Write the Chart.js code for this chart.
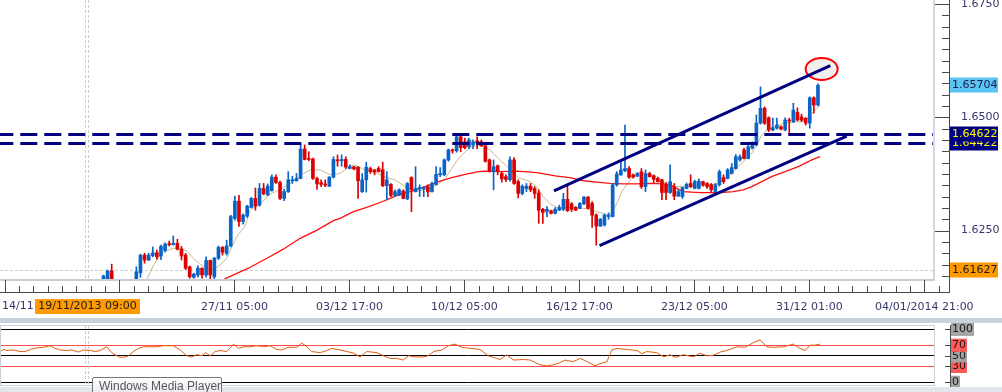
<!DOCTYPE html>
<html>
<head>
<meta charset="utf-8">
<script src="https://cdn.jsdelivr.net/npm/chart.js@4.4.1/dist/chart.umd.min.js"></script>
<style>
  html, body { margin: 0; padding: 0; background: #fff; overflow: hidden; }
  #wrap { position: relative; width: 1002px; height: 392px; }
  #mainChart { position: absolute; left: 0; top: 0; }
  #rsiChart { position: absolute; left: 0; top: 323px; }
  .band { position: absolute; left: 0; width: 1002px; }
  #wmp {
    position: absolute; left: 92px; top: 377px; width: 130px; height: 20px;
    border: 1px solid #767676; border-radius: 2px;
    background: linear-gradient(#ffffff, #e4e5ef);
    font: 12px "Liberation Sans", Arial, sans-serif; color: #575757;
    line-height: 17px; padding-left: 6px; box-sizing: border-box; white-space: nowrap;
  }
</style>
</head>
<body>
<div id="wrap">
  <canvas id="mainChart" width="1002" height="318"></canvas>
  <div class="band" style="top:318px;height:5px;background:#c8d1dc;"></div>
  <canvas id="rsiChart" width="1002" height="69"></canvas>
  <div class="band" style="top:387px;height:5px;background:#e2e6eb;"></div>
  <div id="wmp">Windows Media Player</div>
</div>
<script>
// 4H candles, index 0 = first visible candle (3..7 are below the visible range)
var candleOpen = [
  1.6142, 1.6139, 1.6161, null, null, null, null, null, 1.6139, 1.6157,
  1.6196, 1.6185, 1.6195, 1.6201, 1.6194, 1.6206, 1.6220, 1.6219, 1.6222, 1.6209,
  1.6196, 1.6170, 1.6147, 1.6152, 1.6167, 1.6152, 1.6184, 1.6148, 1.6189, 1.6213,
  1.6200, 1.6216, 1.6277, 1.6315, 1.6270, 1.6282, 1.6301, 1.6321, 1.6306, 1.6343,
  1.6329, 1.6338, 1.6368, 1.6356, 1.6321, 1.6336, 1.6360, 1.6360, 1.6365, 1.6430,
  1.6409, 1.6408, 1.6365, 1.6356, 1.6353, 1.6348, 1.6368, 1.6406, 1.6404, 1.6407,
  1.6387, 1.6391, 1.6390, 1.6336, 1.6362, 1.6387, 1.6384, 1.6387, 1.6384, 1.6349,
  1.6352, 1.6328, 1.6328, 1.6337, 1.6320, 1.6367, 1.6336, 1.6342, 1.6342, 1.6347,
  1.6336, 1.6352, 1.6373, 1.6373, 1.6406, 1.6428, 1.6426, 1.6457, 1.6446, 1.6435,
  1.6439, 1.6448, 1.6446, 1.6437, 1.6406, 1.6380, 1.6393, 1.6376, 1.6369, 1.6362,
  1.6406, 1.6358, 1.6332, 1.6343, 1.6348, 1.6343, 1.6333, 1.6297, 1.6292, 1.6294,
  1.6288, 1.6295, 1.6297, 1.6319, 1.6309, 1.6301, 1.6299, 1.6309, 1.6324, 1.6310,
  1.6284, 1.6260, 1.6262, 1.6281, 1.6281, 1.6351, 1.6373, 1.6382, 1.6387, 1.6373,
  1.6370, 1.6380, 1.6347, 1.6376, 1.6371, 1.6365, 1.6362, 1.6351, 1.6334, 1.6347,
  1.6326, 1.6325, 1.6343, 1.6354, 1.6343, 1.6343, 1.6358, 1.6354, 1.6351, 1.6336,
  1.6351, 1.6367, 1.6365, 1.6376, 1.6387, 1.6406, 1.6428, 1.6409, 1.6432, 1.6439,
  1.6487, 1.6520, 1.6499, 1.6472, 1.6476, 1.6479, 1.6472, 1.6494, 1.6490, 1.6511,
  1.6501, 1.6498, 1.6487, 1.6543, 1.6527
];
var candleClose = [
  1.6150, 1.6161, 1.6139, null, null, null, null, null, 1.6159, 1.6196,
  1.6185, 1.6196, 1.6201, 1.6192, 1.6215, 1.6220, 1.6219, 1.6222, 1.6209, 1.6194,
  1.6167, 1.6148, 1.6154, 1.6167, 1.6152, 1.6184, 1.6152, 1.6189, 1.6213, 1.6202,
  1.6216, 1.6281, 1.6315, 1.6270, 1.6284, 1.6304, 1.6321, 1.6304, 1.6343, 1.6331,
  1.6348, 1.6368, 1.6356, 1.6321, 1.6336, 1.6362, 1.6362, 1.6365, 1.6430, 1.6407,
  1.6407, 1.6365, 1.6353, 1.6352, 1.6350, 1.6368, 1.6407, 1.6404, 1.6407, 1.6390,
  1.6391, 1.6386, 1.6360, 1.6362, 1.6390, 1.6380, 1.6379, 1.6380, 1.6349, 1.6362,
  1.6328, 1.6336, 1.6340, 1.6321, 1.6354, 1.6340, 1.6343, 1.6345, 1.6345, 1.6336,
  1.6354, 1.6374, 1.6376, 1.6406, 1.6428, 1.6426, 1.6457, 1.6433, 1.6433, 1.6450,
  1.6446, 1.6443, 1.6437, 1.6403, 1.6380, 1.6391, 1.6380, 1.6364, 1.6363, 1.6406,
  1.6354, 1.6332, 1.6348, 1.6348, 1.6340, 1.6332, 1.6295, 1.6290, 1.6297, 1.6288,
  1.6297, 1.6301, 1.6319, 1.6294, 1.6297, 1.6295, 1.6310, 1.6324, 1.6299, 1.6284,
  1.6260, 1.6275, 1.6284, 1.6284, 1.6351, 1.6375, 1.6384, 1.6387, 1.6368, 1.6368,
  1.6376, 1.6347, 1.6376, 1.6369, 1.6363, 1.6358, 1.6334, 1.6334, 1.6358, 1.6326,
  1.6336, 1.6345, 1.6352, 1.6347, 1.6358, 1.6359, 1.6351, 1.6347, 1.6340, 1.6351,
  1.6380, 1.6358, 1.6384, 1.6389, 1.6413, 1.6413, 1.6409, 1.6435, 1.6443, 1.6487,
  1.6520, 1.6487, 1.6472, 1.6477, 1.6483, 1.6474, 1.6494, 1.6492, 1.6516, 1.6494,
  1.6494, 1.6487, 1.6543, 1.6527, 1.65704
];
var candleHigh = [
  1.6152, 1.6163, 1.6176, null, null, null, null, null, 1.6170, 1.6198,
  1.6200, 1.6200, 1.6214, 1.6207, 1.6218, 1.6223, 1.6227, 1.6238, 1.6231, 1.6215,
  1.6200, 1.6172, 1.6156, 1.6172, 1.6168, 1.6192, 1.6185, 1.6191, 1.6216, 1.6215,
  1.6229, 1.6284, 1.6326, 1.6328, 1.6287, 1.6306, 1.6323, 1.6344, 1.6354, 1.6354,
  1.6353, 1.6373, 1.6373, 1.6359, 1.6341, 1.6380, 1.6370, 1.6376, 1.6441, 1.6439,
  1.6424, 1.6410, 1.6368, 1.6362, 1.6362, 1.6369, 1.6413, 1.6417, 1.6417, 1.6413,
  1.6395, 1.6392, 1.6391, 1.6376, 1.6401, 1.6390, 1.6385, 1.6391, 1.6401, 1.6380,
  1.6354, 1.6340, 1.6342, 1.6340, 1.6356, 1.6369, 1.6391, 1.6351, 1.6347, 1.6351,
  1.6357, 1.6391, 1.6389, 1.6408, 1.6430, 1.6430, 1.6460, 1.6459, 1.6454, 1.6454,
  1.6450, 1.6457, 1.6450, 1.6439, 1.6408, 1.6406, 1.6395, 1.6380, 1.6373, 1.6413,
  1.6411, 1.6362, 1.6351, 1.6354, 1.6354, 1.6347, 1.6340, 1.6299, 1.6303, 1.6295,
  1.6301, 1.6306, 1.6332, 1.6348, 1.6312, 1.6303, 1.6312, 1.6325, 1.6325, 1.6314,
  1.6287, 1.6277, 1.6287, 1.6289, 1.6354, 1.6380, 1.6402, 1.6483, 1.6391, 1.6375,
  1.6378, 1.6387, 1.6384, 1.6379, 1.6373, 1.6368, 1.6363, 1.6356, 1.6395, 1.6354,
  1.6340, 1.6346, 1.6355, 1.6373, 1.6361, 1.6364, 1.6359, 1.6356, 1.6354, 1.6354,
  1.6384, 1.6373, 1.6387, 1.6398, 1.6418, 1.6417, 1.6432, 1.6439, 1.6446, 1.6505,
  1.6567, 1.6523, 1.6501, 1.6498, 1.6498, 1.6481, 1.6499, 1.6498, 1.6531, 1.6521,
  1.6507, 1.6499, 1.6545, 1.6545, 1.6574
];
var candleLow = [
  1.6139, 1.6134, 1.6134, null, null, null, null, null, 1.6134, 1.6147,
  1.6178, 1.6184, 1.6192, 1.6187, 1.6186, 1.6203, 1.6216, 1.6218, 1.6207, 1.6185,
  1.6164, 1.6145, 1.6145, 1.6148, 1.6145, 1.6147, 1.6143, 1.6143, 1.6186, 1.6196,
  1.6196, 1.6214, 1.6273, 1.6259, 1.6264, 1.6279, 1.6300, 1.6295, 1.6304, 1.6329,
  1.6327, 1.6337, 1.6354, 1.6318, 1.6316, 1.6334, 1.6354, 1.6359, 1.6364, 1.6406,
  1.6404, 1.6363, 1.6341, 1.6347, 1.6347, 1.6347, 1.6366, 1.6392, 1.6392, 1.6387,
  1.6386, 1.6384, 1.6321, 1.6334, 1.6335, 1.6376, 1.6373, 1.6379, 1.6347, 1.6318,
  1.6325, 1.6325, 1.6327, 1.6320, 1.6318, 1.6292, 1.6335, 1.6325, 1.6325, 1.6325,
  1.6335, 1.6351, 1.6369, 1.6371, 1.6403, 1.6421, 1.6423, 1.6424, 1.6430, 1.6431,
  1.6431, 1.6431, 1.6436, 1.6401, 1.6379, 1.6340, 1.6373, 1.6357, 1.6358, 1.6359,
  1.6352, 1.6322, 1.6329, 1.6336, 1.6336, 1.6321, 1.6266, 1.6266, 1.6281, 1.6287,
  1.6287, 1.6294, 1.6294, 1.6292, 1.6292, 1.6294, 1.6298, 1.6307, 1.6298, 1.6257,
  1.6218, 1.6259, 1.6260, 1.6275, 1.6280, 1.6348, 1.6372, 1.6380, 1.6365, 1.6366,
  1.6369, 1.6343, 1.6336, 1.6368, 1.6356, 1.6357, 1.6318, 1.6318, 1.6332, 1.6318,
  1.6325, 1.6321, 1.6342, 1.6345, 1.6342, 1.6342, 1.6348, 1.6343, 1.6336, 1.6329,
  1.6348, 1.6354, 1.6364, 1.6375, 1.6386, 1.6403, 1.6408, 1.6408, 1.6430, 1.6437,
  1.6485, 1.6484, 1.6468, 1.6470, 1.6474, 1.6472, 1.6470, 1.6461, 1.6489, 1.6492,
  1.6490, 1.6483, 1.6476, 1.6509, 1.6525
];

// fast moving average (khaki), read at candle positions
var maFastIdx = [10.6, 12.2, 13.8, 15.4, 17.0, 19.1, 20.5, 21.9, 23.5, 25.2, 26.8, 28.4, 30.0, 31.3, 32.5, 33.7, 34.5, 35.7,
  38.2, 40.6, 43.0, 45.5, 47.1, 48.7, 50.3, 52.8, 55.2, 57.6, 60.1, 61.3, 63.3, 65.7, 68.2, 69.8, 71.0, 73.5, 75.1, 76.7,
  79.1, 81.6, 83.2, 84.8, 86.4, 88.1, 89.7, 91.3, 92.9, 94.6, 96.2, 97.8, 99.4, 101.0, 102.7, 103.9, 105.5, 107.1, 108.8,
  110.4, 112.0, 113.6, 115.3, 116.9, 118.5, 120.1, 121.7, 123.0, 124.2, 125.2, 126.2, 127.4, 128.7, 129.9, 131.5, 133.1,
  134.7, 136.4, 138.0, 139.6, 142.4, 145.7, 148.1, 149.7, 151.4, 153.0, 154.6, 156.2, 157.9, 159.1, 160.3, 161.5, 162.7,
  164.4, 166.0, 167.6, 169.2, 170.9, 172.1, 173.3, 174.5];
var maFastVal = [1.6143, 1.6174, 1.6196, 1.6206, 1.6211, 1.6211, 1.6203, 1.6189, 1.6176, 1.6167, 1.6164, 1.6174, 1.6189, 1.6215, 1.6237, 1.6251, 1.6260, 1.6295,
  1.6310, 1.6330, 1.6341, 1.6354, 1.6365, 1.6376, 1.6384, 1.6384, 1.6373, 1.6376, 1.6393, 1.6395, 1.6385, 1.6380, 1.6370, 1.6365, 1.6362, 1.6347, 1.6340, 1.6337,
  1.6343, 1.6352, 1.6365, 1.6387, 1.6409, 1.6424, 1.6435, 1.6439, 1.6435, 1.6424, 1.6409, 1.6396, 1.6380, 1.6367, 1.6362, 1.6358, 1.6347, 1.6325, 1.6309,
  1.6301, 1.6299, 1.6301, 1.6301, 1.6299, 1.6297, 1.6292, 1.6288, 1.6284, 1.6295, 1.6314, 1.6336, 1.6351, 1.6365, 1.6375, 1.6376, 1.6373,
  1.6368, 1.6358, 1.6351, 1.6347, 1.6347, 1.6349, 1.6351, 1.6354, 1.6365, 1.6376, 1.6391, 1.6406, 1.6421, 1.6439, 1.6461, 1.6472, 1.6476,
  1.6483, 1.6488, 1.6488, 1.6490, 1.6494, 1.6505, 1.6516, 1.6526];

// slow moving average (red)
var maSlowIdx = [29.4, 35.3, 39.8, 43.8, 47.9, 52.0, 56.0, 57.6, 60.9, 64.1, 67.4, 69.8, 71.8, 75.1, 78.3, 81.6, 84.8, 88.1,
  91.3, 92.9, 96.2, 100.7, 105.5, 110.4, 113.6, 116.9, 120.1, 123.4, 126.6, 129.9, 133.1, 136.4, 138.5, 141.2, 145.3,
  150.2, 153.4, 155.8, 157.9, 160.3, 162.7, 166.0, 169.2, 172.5, 174.5];
var maSlowVal = [1.6143, 1.6167, 1.6189, 1.6209, 1.6233, 1.6251, 1.6272, 1.6277, 1.6292, 1.6301, 1.6312, 1.6321, 1.6329, 1.6337, 1.6347, 1.6358, 1.6367, 1.6374,
  1.6380, 1.6381, 1.6380, 1.6381, 1.6378, 1.6370, 1.6367, 1.6360, 1.6357, 1.6354, 1.6353, 1.6353, 1.6354, 1.6353, 1.6348, 1.6336, 1.6334,
  1.6334, 1.6336, 1.6340, 1.6347, 1.6358, 1.6369, 1.6380, 1.6391, 1.6406, 1.6413];

// RSI line vertices
var rsiIdx = [-25.2, -24.3, -23.5, -21.9, -20.3, -19.1, -17.8, -16.2, -14.6, -13.0, -11.8, -10.5, -8.9, -7.7, -6.1, -4.9, -3.2, -2.0, -0.8,
  0.8, 2.0, 3.7, 4.9, 6.1, 7.3, 8.5, 9.7, 11.4, 13.0, 14.6, 17.0, 18.7, 20.3, 21.5, 22.7, 24.0, 24.8, 26.0, 27.2, 28.4, 30.0,
  31.7, 32.9, 34.1, 35.7, 37.4, 39.0, 40.6, 42.2, 43.4, 45.0, 47.1, 48.3, 49.5, 50.7, 52.8, 54.4, 55.6, 57.6, 59.3, 60.9,
  62.5, 64.1, 66.6, 68.2, 69.8, 71.4, 73.0, 74.3, 75.9, 77.9, 79.1, 80.4, 82.4, 84.0, 85.6, 87.3, 89.3, 91.7, 93.7, 95.8,
  96.6, 98.2, 99.8, 102.3, 103.9, 106.3, 108.0, 109.6, 111.2, 112.4, 114.4, 116.1, 117.3, 118.5, 119.7, 120.9, 122.6, 123.8,
  125.0, 127.4, 129.9, 131.1, 132.3, 134.7, 136.4, 138.0, 139.2, 141.2, 143.7, 145.3, 146.9, 148.5, 150.2, 151.8, 154.2,
  156.2, 158.3, 159.9, 161.5, 163.1, 165.6, 168.0, 169.6, 170.9, 172.0, 173.3, 174.5];
var rsiVal = [58, 62, 60, 61, 58, 58, 62, 65, 66, 69, 64, 61, 60, 61, 57, 61, 60, 58, 60,
  67, 56, 48, 47, 50, 58, 64, 67, 67, 67, 69, 69, 61, 50, 48, 52, 50, 56, 50, 58, 60, 58,
  72, 64, 67, 67, 69, 67, 69, 62, 61, 66, 66, 74, 67, 58, 56, 60, 64, 61, 58, 55,
  48, 58, 56, 50, 45, 45, 42, 50, 48, 48, 50, 58, 61, 69, 72, 66, 64, 62, 50, 45,
  43, 52, 42, 43, 42, 33, 31, 33, 37, 42, 39, 45, 41, 36, 31, 35, 39, 61,
  64, 62, 60, 54, 58, 56, 48, 52, 47, 52, 48, 55, 50, 51, 57, 60, 67,
  66, 75, 80, 67, 66, 67, 72, 64, 60, 70, 70, 72];
var rsiLevels = [0, 30, 50, 70, 100];

// drawn objects
var levelPrices = [1.64622, 1.64422];
var upperLineIdx = [109.7, 177.0];
var upperLinePrice = [1.63374, 1.66138];
var lowerLineIdx = [120.8, 181.0];
var lowerLinePrice = [1.62167, 1.64587];
var circleIdx = 174.9, circlePrice = 1.66066;
var lastPrice = 1.65704;
var crossIdx = -4.0, crossPrice = 1.61627, crossLabel = '19/11/2013 09:00';

// axes
var xMajorIdx = [-24.1, 3.9, 31.9, 59.9, 87.9, 115.9, 143.9, 171.9, 199.9];
var xTickIdx = [31.9, 59.9, 87.9, 115.9, 143.9, 171.9, 199.9];
var xTickLabels = ['27/11 05:00', '03/12 17:00', '10/12 05:00', '16/12 17:00', '23/12 05:00', '31/12 01:00', '04/01/2014 21:00'];
var firstXLabel = '14/11';
var yTickValues = [1.6250, 1.6500, 1.6750];

var X_MIN = -25.2, X_MAX = 202.5, Y_MIN = 1.61432, Y_MAX = 1.67588;
var BLUE = '#0a64c8', RED = '#dc0000', NAVY = '#000080', TEXT = '#36366b';
var FONT = '11px "DejaVu Sans"';

Chart.defaults.font.family = '"DejaVu Sans", sans-serif';
Chart.defaults.font.size = 11;

var bodies = [], wicks = [], colors = [];
for (var i = 0; i < candleOpen.length; i++) {
  if (candleOpen[i] === null) continue;
  bodies.push({ x: i, y: [candleOpen[i], candleClose[i]] });
  wicks.push({ x: i, y: [candleLow[i], candleHigh[i]] });
  colors.push(candleClose[i] >= candleOpen[i] ? BLUE : RED);
}
function pairs(xs, ys) {
  return xs.map(function (x, k) { return { x: x, y: ys[k] }; });
}

function drawPriceBox(c, y, txt, bg, fg) {
  c.fillStyle = bg;
  c.fillRect(950, Math.round(y) - 7.5, 48, 15);
  c.fillStyle = fg;
  c.textAlign = 'left';
  c.textBaseline = 'middle';
  c.fillText(txt, 952, Math.round(y));
}

var mainDecor = {
  id: 'mainDecor',
  beforeDatasetsDraw: function (chart) {
    var c = chart.ctx, a = chart.chartArea, xs = chart.scales.x, ys = chart.scales.y;
    c.save();
    c.strokeStyle = '#cdcdcd';
    c.lineWidth = 1;
    c.setLineDash([3, 2]);
    var cx = Math.round(xs.getPixelForValue(crossIdx));
    [cx - 1.5, cx + 1.5].forEach(function (px) {
      c.beginPath(); c.moveTo(px, a.top); c.lineTo(px, a.bottom); c.stroke();
    });
    var cy = Math.round(ys.getPixelForValue(crossPrice)) + 0.5;
    c.beginPath(); c.moveTo(a.left, cy); c.lineTo(a.right, cy); c.stroke();
    c.setLineDash([]);
    c.beginPath();
    c.ellipse(xs.getPixelForValue(circleIdx), ys.getPixelForValue(circlePrice), 16, 11, 0, 0, Math.PI * 2);
    c.fillStyle = '#f0f0f0';
    c.fill();
    c.strokeStyle = '#ff0000';
    c.lineWidth = 2;
    c.stroke();
    c.restore();
  },
  afterDraw: function (chart) {
    var c = chart.ctx, a = chart.chartArea, xs = chart.scales.x, ys = chart.scales.y;
    c.save();
    // frame of the price pane
    c.fillStyle = '#d3d9e2';
    c.fillRect(a.right - 2, a.top, 2, a.bottom - a.top);
    c.fillStyle = '#c6cdd7';
    c.fillRect(0, a.bottom, a.right, 2);

    // time axis: baseline and ticks
    c.strokeStyle = '#4a4a4a';
    c.lineWidth = 1;
    c.beginPath(); c.moveTo(0, 292.5); c.lineTo(949, 292.5); c.stroke();
    for (var m = 0; m < xMajorIdx.length; m++) {
      var px = Math.round(xs.getPixelForValue(xMajorIdx[m])) + 0.5;
      c.beginPath(); c.moveTo(px, a.bottom + 1); c.lineTo(px, 293); c.stroke();
      var step = m + 1 < xMajorIdx.length ? xMajorIdx[m + 1] - xMajorIdx[m] : xMajorIdx[m] - xMajorIdx[m - 1];
      for (var k = 1; k < 8; k++) {
        var mx = Math.round(xs.getPixelForValue(xMajorIdx[m] + step * k / 8)) + 0.5;
        if (mx > 949) break;
        c.beginPath(); c.moveTo(mx, 286); c.lineTo(mx, 293); c.stroke();
      }
    }

    // price axis: line and ticks
    c.beginPath(); c.moveTo(949.5, 0); c.lineTo(949.5, 293); c.stroke();
    for (var v = 1.6150; v <= 1.6760; v += 0.0025) {
      var py = Math.round(ys.getPixelForValue(v)) + 0.5;
      var major = Math.abs(v / 0.025 - Math.round(v / 0.025)) < 0.01;
      c.beginPath(); c.moveTo(major ? 935 : 942, py); c.lineTo(949, py); c.stroke();
    }

    // price markers
    c.font = FONT;
    drawPriceBox(c, ys.getPixelForValue(lastPrice), lastPrice.toFixed(5), '#5ac4f2', '#1a1a4a');
    drawPriceBox(c, ys.getPixelForValue(levelPrices[1]), levelPrices[1].toFixed(5), NAVY, '#ffff00');
    drawPriceBox(c, ys.getPixelForValue(levelPrices[0]), levelPrices[0].toFixed(5), NAVY, '#ffff00');
    drawPriceBox(c, ys.getPixelForValue(crossPrice), crossPrice.toFixed(5), '#ff9a00', '#1a1a1a');

    // time labels at the left edge and at the crosshair
    c.fillStyle = TEXT;
    c.textAlign = 'left';
    c.textBaseline = 'middle';
    c.fillText(firstXLabel, 2, 305.7);
    var cx = Math.round(xs.getPixelForValue(crossIdx));
    c.fillStyle = '#ff9a00';
    c.fillRect(cx - 52, 299, 105, 15);
    c.fillStyle = '#1a1a1a';
    c.textAlign = 'center';
    c.fillText(crossLabel, cx + 0.5, 306.5);
    c.restore();
  }
};

new Chart(document.getElementById('mainChart'), {
  type: 'bar',
  data: {
    datasets: [
      { type: 'line', data: pairs(maFastIdx, maFastVal), borderColor: '#c4bc8c', borderWidth: 1, pointRadius: 0, order: 6 },
      { type: 'line', data: pairs(maSlowIdx, maSlowVal), borderColor: '#ff1010', borderWidth: 1.3, pointRadius: 0, order: 5 },
      { type: 'bar', data: wicks, backgroundColor: colors, borderWidth: 0, barThickness: 1, grouped: false, order: 4 },
      { type: 'bar', data: bodies, backgroundColor: colors, borderWidth: 0, barThickness: 3, grouped: false, minBarLength: 1, order: 3 },
      { type: 'line', data: [{ x: X_MIN, y: levelPrices[0] }, { x: X_MAX, y: levelPrices[0] }], borderColor: NAVY, borderWidth: 3, borderDash: [17, 7], borderDashOffset: 3.7, pointRadius: 0, order: 2 },
      { type: 'line', data: [{ x: X_MIN, y: levelPrices[1] }, { x: X_MAX, y: levelPrices[1] }], borderColor: NAVY, borderWidth: 3, borderDash: [17, 7], borderDashOffset: 3.7, pointRadius: 0, order: 2 },
      { type: 'line', data: pairs(upperLineIdx, upperLinePrice), borderColor: NAVY, borderWidth: 3, pointRadius: 0, order: 1 },
      { type: 'line', data: pairs(lowerLineIdx, lowerLinePrice), borderColor: NAVY, borderWidth: 3, pointRadius: 0, order: 1 }
    ]
  },
  options: {
    responsive: false,
    animation: false,
    events: [],
    layout: { padding: 0 },
    plugins: { legend: { display: false }, tooltip: { enabled: false } },
    scales: {
      x: {
        type: 'linear', min: X_MIN, max: X_MAX, offset: false,
        grid: { display: false }, border: { display: false },
        afterBuildTicks: function (scale) {
          scale.ticks = xTickIdx.map(function (v) { return { value: v }; });
        },
        ticks: {
          autoSkip: false, maxRotation: 0, minRotation: 0, padding: 14, color: TEXT,
          callback: function (v, idx) { return xTickLabels[idx]; }
        },
        afterFit: function (scale) { scale.height = 39; scale.paddingLeft = 0; scale.paddingRight = 0; }
      },
      y: {
        type: 'linear', position: 'right', min: Y_MIN, max: Y_MAX,
        grid: { display: false }, border: { display: false },
        afterBuildTicks: function (scale) {
          scale.ticks = yTickValues.map(function (v) { return { value: v }; });
        },
        ticks: { autoSkip: false, padding: 18, color: TEXT, callback: function (v) { return v.toFixed(4); } },
        afterFit: function (scale) { scale.width = 67; scale.paddingTop = 0; scale.paddingBottom = 0; }
      }
    }
  },
  plugins: [mainDecor]
});

var rsiDecor = {
  id: 'rsiDecor',
  beforeDatasetsDraw: function (chart) {
    var c = chart.ctx, xs = chart.scales.x;
    c.save();
    c.strokeStyle = '#cdcdcd';
    c.lineWidth = 1;
    c.setLineDash([3, 2]);
    var cx = Math.round(xs.getPixelForValue(crossIdx));
    [cx - 1.5, cx + 1.5].forEach(function (px) {
      c.beginPath(); c.moveTo(px, 3); c.lineTo(px, 62); c.stroke();
    });
    c.restore();
  },
  afterDraw: function (chart) {
    var c = chart.ctx, ys = chart.scales.y;
    c.save();
    c.strokeStyle = '#c9d0da';
    c.lineWidth = 1;
    c.strokeRect(0.5, 2.5, 934, 60);
    c.strokeStyle = '#4a4a4a';
    c.beginPath(); c.moveTo(950.5, 2); c.lineTo(950.5, 64); c.stroke();
    rsiLevels.forEach(function (v) {
      var py = Math.round(ys.getPixelForValue(v)) + 0.5;
      c.beginPath(); c.moveTo(945, py); c.lineTo(950, py); c.stroke();
    });
    c.restore();
  }
};

new Chart(document.getElementById('rsiChart'), {
  type: 'line',
  data: {
    datasets: [
      { data: pairs(rsiIdx, rsiVal), borderColor: '#e85a10', borderWidth: 1, pointRadius: 0 }
    ]
  },
  options: {
    responsive: false,
    animation: false,
    events: [],
    layout: { padding: { top: 6.3, bottom: 9.7, left: 0, right: 0 } },
    plugins: { legend: { display: false }, tooltip: { enabled: false } },
    scales: {
      x: { type: 'linear', min: X_MIN, max: X_MAX, display: false },
      y: {
        type: 'linear', position: 'right', min: 0, max: 100,
        afterBuildTicks: function (scale) {
          scale.ticks = rsiLevels.map(function (v) { return { value: v }; });
        },
        grid: {
          drawTicks: false, lineWidth: 1,
          color: function (ctx) {
            var v = ctx.tick ? ctx.tick.value : 0;
            return (v === 30 || v === 70) ? '#ff4c4c' : '#000000';
          }
        },
        border: { display: false },
        ticks: {
          autoSkip: false, padding: 17, color: '#1a1a1a',
          showLabelBackdrop: true,
          backdropPadding: { top: 0, bottom: 0, left: 1, right: 1 },
          backdropColor: function (ctx) {
            var v = ctx.tick ? ctx.tick.value : 0;
            return (v === 30 || v === 70) ? '#ff5a5a' : '#a4a4a4';
          }
        },
        afterFit: function (scale) { scale.width = 67; scale.paddingTop = 0; scale.paddingBottom = 0; }
      }
    }
  },
  plugins: [rsiDecor]
});
</script>
</body>
</html>
